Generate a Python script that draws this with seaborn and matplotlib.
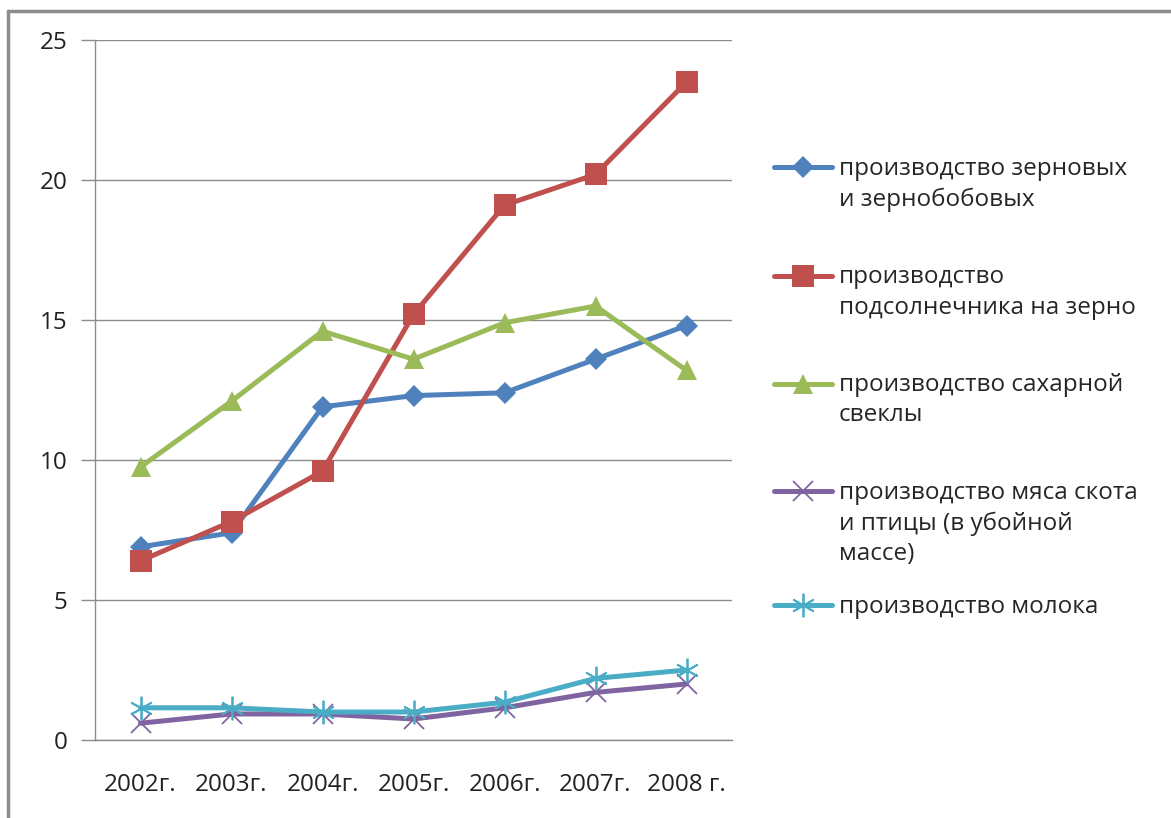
import pandas as pd
import matplotlib.pyplot as plt
import seaborn as sns
from matplotlib.lines import Line2D

# data
years = ["2002г.", "2003г.", "2004г.", "2005г.", "2006г.", "2007г.", "2008 г."]
grain = [6.9, 7.4, 11.9, 12.3, 12.4, 13.6, 14.8]
sunflower = [6.4, 7.8, 9.6, 15.2, 19.1, 20.2, 23.5]
sugar_beet = [9.75, 12.1, 14.6, 13.6, 14.9, 15.5, 13.2]
meat = [0.6, 0.93, 0.93, 0.75, 1.15, 1.7, 2.0]
milk = [1.15, 1.15, 1.0, 1.0, 1.35, 2.2, 2.5]

labels = [
    "производство зерновых\nи зернобобовых",
    "производство\nподсолнечника на зерно",
    "производство сахарной\nсвеклы",
    "производство мяса скота\nи птицы (в убойной\nмассе)",
    "производство молока",
]
series = [grain, sunflower, sugar_beet, meat, milk]
colors = ["#4F81BD", "#C0504D", "#9BBB59", "#8064A2", "#4BACC6"]
markers = ["D", "s", "^", "x", (6, 2, 0)]
msizes = [11, 16, 15, 15, 17]

sns.set_style("white")
plt.rcParams["font.family"] = ["Open Sans", "DejaVu Sans"]

fig = plt.figure(figsize=(11.71, 8.18), dpi=100)
ax = fig.add_axes([95 / 1171, 1 - 740 / 818, 637 / 1171, 700 / 818])

for vals, lab, col, mk, ms in zip(series, labels, colors, markers, msizes):
    df = pd.DataFrame({"year": years, "value": vals})
    thin = mk in ("x", (6, 2, 0))
    sns.lineplot(data=df, x="year", y="value", ax=ax, color=col, marker=mk,
                 markersize=ms, linewidth=3.6, label=lab,
                 markeredgecolor=col, markeredgewidth=1.3 if thin else 0)

ax.set_xlim(-0.5, len(years) - 0.5)
ax.set_ylim(0, 25)
ax.set_yticks([0, 5, 10, 15, 20, 25])
ax.set_xlabel("")
ax.set_ylabel("")
ax.yaxis.grid(True, color="#8c8c8c", linewidth=1)
ax.set_axisbelow(True)
for s in ["top", "right"]:
    ax.spines[s].set_visible(False)
for s in ["left", "bottom"]:
    ax.spines[s].set_color("#8c8c8c")
    ax.spines[s].set_linewidth(1)

ax.set_xticks(range(len(years)))
ax.set_xticklabels(years)
ax.set_xticks([i - 0.5 for i in range(len(years) + 1)], minor=True)
ax.tick_params(axis="x", which="major", length=0, pad=24, labelsize=17.5, colors="#222222")
ax.tick_params(axis="x", which="minor", length=8, color="#8c8c8c", width=1, direction="out")
ax.tick_params(axis="y", length=10, color="#8c8c8c", width=1, direction="out", pad=10,
               labelsize=17.5, labelcolor="#222222")
ax.tick_params(axis="both", bottom=True, left=True)

# legend: first four entries in one block, the milk entry placed on its own
handles, _ = ax.get_legend_handles_labels()
leg_kw = dict(bbox_transform=fig.transFigure, frameon=False, fontsize=17.5,
              handlelength=2.4, handletextpad=0.25, handleheight=1.2, borderpad=0)
leg1 = ax.legend(handles[:4], labels[:4], loc="upper left",
                 bbox_to_anchor=(762 / 1171, 1 - 145 / 818), labelspacing=2.2, **leg_kw)
ax.add_artist(leg1)
leg2 = ax.legend(handles[4:], labels[4:], loc="upper left",
                 bbox_to_anchor=(762 / 1171, 1 - 583 / 818), **leg_kw)
for leg in (leg1, leg2):
    for t in leg.get_texts():
        t.set_linespacing(1.35)
    for col in leg._legend_handle_box.get_children():
        for row in col.get_children():
            row.align = "top"

# outer frame (only left and top edges visible in the original)
fig.add_artist(Line2D([8 / 1171, 8 / 1171], [0, 1 - 11 / 818], transform=fig.transFigure,
                      color="#8c8c8c", linewidth=2.5))
fig.add_artist(Line2D([8 / 1171, 1], [1 - 11 / 818, 1 - 11 / 818], transform=fig.transFigure,
                      color="#8c8c8c", linewidth=2.5))

fig.savefig("out.png", dpi=100)
